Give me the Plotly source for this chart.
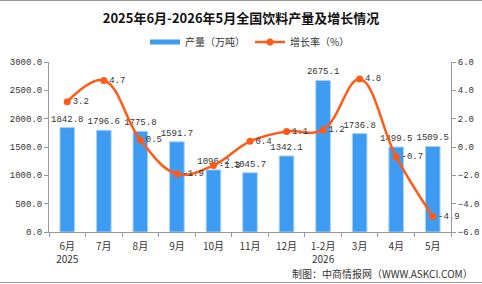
import plotly.graph_objects as go

months = ["6月<br>2025", "7月", "8月", "9月", "10月", "11月", "12月", "1-2月<br>2026", "3月", "4月", "5月"]
output = [1842.8, 1796.6, 1775.8, 1591.7, 1096.2, 1045.7, 1342.1, 2675.1, 1736.8, 1499.5, 1509.5]
growth = [3.2, 4.7, 0.5, -1.9, -1.3, 0.4, 1.1, 1.2, 4.8, -0.7, -4.9]
left_ticks = [0, 500, 1000, 1500, 2000, 2500, 3000]
right_ticks = [-6, -4, -2, 0, 2, 4, 6]

W, H = 482, 284
ML, MR, MT, MB = 49, 31, 62, 52
PH = H - MT - MB
PW = W - ML - MR

BLUE = "#3D9CF2"
ORANGE = "#FF5B16"
num_font = dict(family="Liberation Mono, DejaVu Sans Mono", size=9, color="#333")
cjk = "Noto Sans CJK SC"

fig = go.Figure()
fig.add_trace(go.Scatter(
    x=[None], y=[None], mode="lines", name="产量（万吨）",
    line=dict(color=BLUE, width=5), showlegend=True,
))
fig.add_trace(go.Bar(
    x=months, y=output, name="产量（万吨）", showlegend=False,
    marker=dict(color=BLUE, line=dict(color="#A9D2F8", width=1)),
    width=0.4,
    text=[f"{v:.1f}" for v in output], textposition="outside",
    textfont=num_font, cliponaxis=False, constraintext="none",
    textangle=0,
))
fig.add_trace(go.Scatter(
    x=months, y=growth, name="增长率（%）", yaxis="y2",
    mode="lines+markers+text",
    line=dict(color=ORANGE, width=2.5, shape="spline", smoothing=1.1),
    marker=dict(color=ORANGE, size=7),
    text=[f"{v:.1f}" for v in growth], textposition="middle right",
    textfont=num_font, cliponaxis=False,
))

fig.update_layout(
    width=W, height=H,
    margin=dict(l=ML, r=MR, t=MT, b=MB, autoexpand=False),
    paper_bgcolor="white", plot_bgcolor="white",
    showlegend=True,
    title=dict(text="<b>2025年6月-2026年5月全国饮料产量及增长情况</b>",
               x=0.5, xanchor="center", y=1 - 18 / H, yanchor="middle",
               font=dict(family=cjk, size=13, color="#111")),
    legend=dict(orientation="h", x=0.5, xanchor="center", y=1 + 20 / PH, yanchor="middle",
                font=dict(family=cjk, size=10, color="#333"), itemwidth=30,
                traceorder="normal"),
    xaxis=dict(type="category", range=[-0.5, len(months) - 0.5],
               tickson="boundaries", ticks="outside", ticklen=4,
               tickcolor="#999", showline=True, linecolor="#999", showgrid=False,
               ticklabelstandoff=5, automargin=False,
               tickfont=dict(family=cjk, size=10, color="#333")),
    yaxis=dict(range=[0, 3000], tickvals=left_ticks, tickformat=".1f",
               ticks="outside", ticklen=4, tickcolor="#999", automargin=False,
               showline=True, linecolor="#999", showgrid=False, zeroline=False,
               tickfont=num_font),
    yaxis2=dict(range=[-6, 6], tickvals=right_ticks, tickformat=".1f",
                overlaying="y", side="right", automargin=False,
                ticks="outside", ticklen=4, tickcolor="#999",
                showline=True, linecolor="#999", showgrid=False, zeroline=False,
                tickfont=num_font),
    annotations=[dict(text="制图：中商情报网（WWW.ASKCI.COM）", xref="paper", yref="paper",
                      x=1 + 24 / PW, xanchor="right",
                      y=-(273 - (H - MB)) / PH, yanchor="middle", showarrow=False,
                      font=dict(family=cjk, size=10, color="#333"))],
    shapes=[
        dict(type="line", xref="paper", yref="paper", x0=-ML / PW, x1=1 + MR / PW,
             y0=1 + (MT - 0.5) / PH, y1=1 + (MT - 0.5) / PH, line=dict(color="#999", width=1)),
        dict(type="line", xref="paper", yref="paper", x0=-ML / PW, x1=1 + MR / PW,
             y0=-(MB - 1.5) / PH, y1=-(MB - 1.5) / PH, line=dict(color="#999", width=1)),
    ],
)

fig.write_html("out.html")
